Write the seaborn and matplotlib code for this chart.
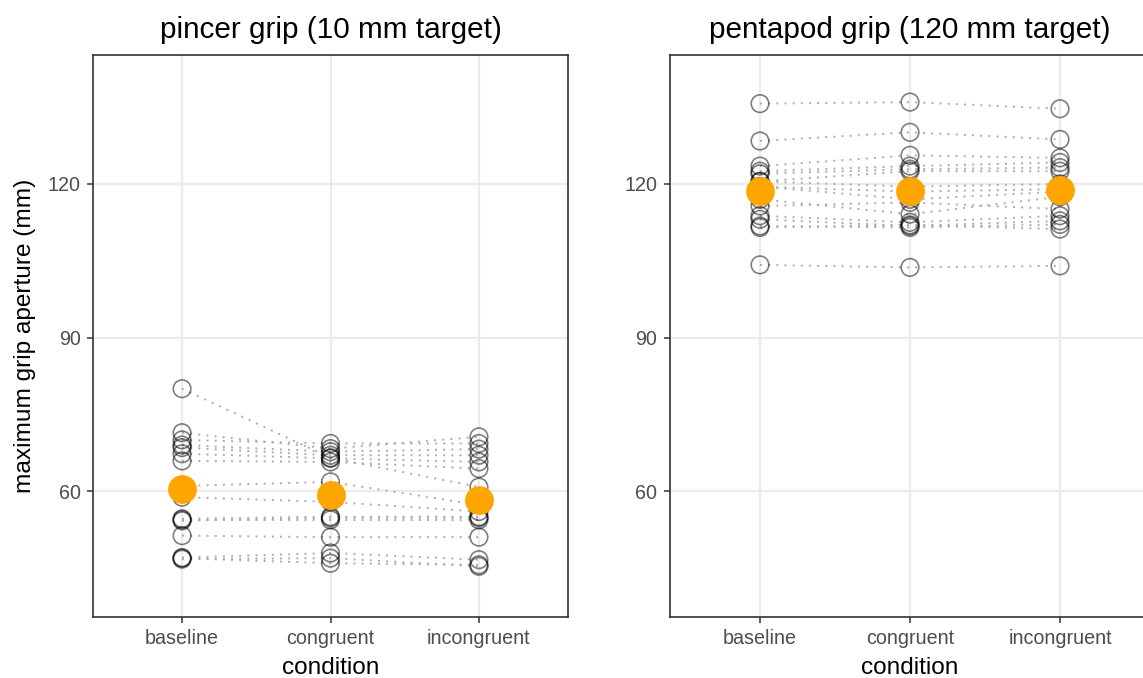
import numpy as np
import pandas as pd
import matplotlib
matplotlib.use("Agg")
import matplotlib.pyplot as plt
import seaborn as sns

# Conditions shown on the x axis
conditions = ["baseline", "congruent", "incongruent"]

# Maximum grip aperture (mm) per participant, pincer grip (10 mm target)
pincer_baseline = [80.0, 71.4, 70.0, 69.0, 68.5, 67.3, 65.9, 61.0, 58.8, 54.6, 54.4, 54.2, 51.3, 47.0, 46.7, 46.9]
pincer_congruent = [66.5, 68.3, 69.3, 67.7, 67.0, 66.4, 65.7, 61.8, 57.9, 55.0, 54.4, 54.8, 51.0, 47.9, 46.9, 45.9]
pincer_incongruent = [60.8, 70.6, 69.3, 68.2, 67.0, 65.7, 64.4, 57.3, 56.0, 55.0, 54.4, 54.8, 51.0, 46.6, 45.3, 45.6]

# Maximum grip aperture (mm) per participant, pentapod grip (120 mm target)
penta_baseline = [135.7, 128.4, 123.5, 122.5, 122.0, 120.5, 120.5, 119.5, 117.0, 115.7, 113.8, 113.1, 111.8, 111.5, 104.2, 119.5]
penta_congruent = [136.0, 130.1, 125.6, 123.5, 122.9, 122.5, 119.5, 118.5, 114.1, 116.4, 112.5, 111.8, 111.5, 112.0, 103.7, 117.0]
penta_incongruent = [134.7, 128.7, 125.1, 124.2, 123.2, 122.5, 120.0, 119.0, 117.5, 115.1, 113.8, 112.8, 112.1, 111.2, 104.0, 118.5]

titles = ["pincer grip (10 mm target)", "pentapod grip (120 mm target)"]
y_ticks = [60, 90, 120]


def long_frame(base, cong, incong):
    rows = []
    for cond_idx, vals in enumerate([base, cong, incong]):
        for pid, v in enumerate(vals):
            rows.append({"pid": pid, "x": cond_idx, "mga": v})
    return pd.DataFrame(rows)


frames = [
    long_frame(pincer_baseline, pincer_congruent, pincer_incongruent),
    long_frame(penta_baseline, penta_congruent, penta_incongruent),
]

sns.set_style("white")
plt.rcParams["font.family"] = ["Liberation Sans", "DejaVu Sans"]

W, H = 1143, 678
fig = plt.figure(figsize=(W / 100, H / 100), dpi=100)

panel_top, panel_bottom = 55, 617
lefts = [93, 670]
widths = [475, 480]

grid_col = "#EBEBEB"
border_col = "#333333"
tick_col = "#4D4D4D"

for i, (df, title) in enumerate(zip(frames, titles)):
    ax = fig.add_axes([lefts[i] / W, 1 - panel_bottom / H, widths[i] / W,
                       (panel_bottom - panel_top) / H])
    ax.set_facecolor("white")

    # individual participants joined across conditions
    sns.lineplot(data=df, x="x", y="mga", units="pid", estimator=None,
                 color="#ABABAB", linewidth=1.4, linestyle=(0, (1, 3.2)),
                 ax=ax, zorder=2, legend=False)

    # individual observations as open circles
    ax.scatter(df["x"], df["mga"], s=160, facecolors="none",
               edgecolors=(0, 0, 0, 0.5), linewidths=1.2, zorder=3)

    # condition means
    means = df.groupby("x", as_index=False)["mga"].mean()
    sns.scatterplot(data=means, x="x", y="mga", color="#FFA500", s=430,
                    linewidth=0, ax=ax, zorder=4, legend=False)

    ax.set_xlim(-0.6, 2.6)
    ax.set_ylim(35.4, 145.2)
    ax.set_xticks(range(len(conditions)))
    ax.set_xticklabels(conditions)
    ax.set_yticks(y_ticks)
    ax.grid(True, color=grid_col, linewidth=1.6, zorder=0)
    ax.set_axisbelow(True)
    for sp in ax.spines.values():
        sp.set_visible(True)
        sp.set_color(border_col)
        sp.set_linewidth(1.2)
    ax.tick_params(axis="both", which="major", length=4.5, width=1.1,
                   color=border_col, labelcolor=tick_col, labelsize=14.2,
                   pad=4.5, direction="out")
    ax.tick_params(axis="x", bottom=True)
    ax.tick_params(axis="y", left=True)
    ax.set_xlabel("condition", fontsize=17.6, color="black", labelpad=6)
    if i == 0:
        ax.set_ylabel("maximum grip aperture (mm)", fontsize=17.6,
                      color="black", labelpad=8)
    else:
        ax.set_ylabel("")
    ax.set_title(title, fontsize=21.4, color="black", pad=12)

fig.savefig("out.png", dpi=100)
